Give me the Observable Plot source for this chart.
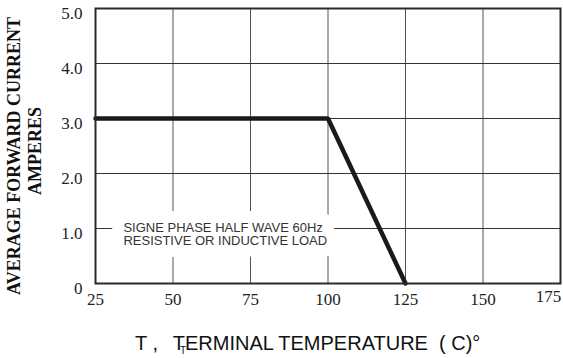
<!DOCTYPE html>
<html>
<head>
<meta charset="utf-8">
<script src="https://cdn.jsdelivr.net/npm/d3@7"></script>
<script src="https://cdn.jsdelivr.net/npm/@observablehq/plot@0.6"></script>
<style>
  body { margin: 0; background: #fff; width: 563px; height: 358px; overflow: hidden; }
  #wrap { position: relative; width: 563px; height: 358px; }
  #title { position: absolute; left: 135px; top: 333px; font-family: "Liberation Sans", Arial, sans-serif; font-size: 20px; color: #111; white-space: pre; line-height: 20px; }
  #sub { position: absolute; left: 180px; top: 346px; font-family: "Liberation Sans", Arial, sans-serif; font-size: 10px; color: #111; line-height: 10px; }
</style>
</head>
<body>
<div id="wrap"><div id="chart"></div><div id="title"></div><div id="sub"></div></div>
<script>
// Curve (derating): terminal temperature (°C) vs average forward current (A)
const temps = [25, 100, 125];
const amps = [3.0, 3.0, 0];
// Axis ticks
const xTicks = [25, 50, 75, 100, 125, 150, 175];
const yTicks = [0, 1, 2, 3, 4, 5];
const yTickLabels = ["0", "1.0", "2.0", "3.0", "4.0", "5.0"];
// Texts
const yTitleLines = ["AVERAGE FORWARD CURRENT", "AMPERES"];
const noteLines = ["SIGNE PHASE HALF WAVE 60Hz", "RESISTIVE OR INDUCTIVE LOAD"];
const noteX = [34];
const noteY = [0.9];
const xTitle = "T , \u2009 TERMINAL TEMPERATURE  ( C)°";
const xTitleSub = "T";

const curve = temps.map((t, i) => ({t, a: amps[i]}));
const innerX = xTicks.slice(1, -1);
const innerY = yTicks.slice(1, -1);
const serif = "'Liberation Serif', 'Times New Roman', serif";
const sans = "'Liberation Sans', Arial, sans-serif";
const note = [noteLines.join("\n")];

const chart = Plot.plot({
  width: 563,
  height: 318,
  marginLeft: 95,
  marginRight: 3,
  marginTop: 8,
  marginBottom: 35,
  style: {background: "#fff", overflow: "visible"},
  x: {domain: [25, 175]},
  y: {domain: [0, 5]},
  marks: [
    Plot.ruleX(innerX, {stroke: "#555", strokeWidth: 1}),
    Plot.ruleY(innerY, {stroke: "#333", strokeWidth: 1}),
    // white knock-out behind the note
    Plot.text(note, {
      x: noteX, y: noteY, text: d => d, textAnchor: "start",
      fontFamily: sans, fontSize: 13, lineHeight: 1,
      fill: "white", stroke: "white", strokeWidth: 24, strokeLinejoin: "round", ariaHidden: "true"
    }),
    Plot.text(note, {
      x: noteX, y: noteY, text: d => d, textAnchor: "start",
      fontFamily: sans, fontSize: 13, lineHeight: 1, fill: "#333"
    }),
    Plot.line(curve, {x: "t", y: "a", stroke: "#1a1a1a", strokeWidth: 4.5, strokeLinejoin: "miter"}),
    Plot.frame({stroke: "#2a2a2a", strokeWidth: 2}),
    Plot.axisY(yTicks, {tickSize: 0, tickPadding: 13, dy: 5, fontFamily: serif, fontSize: 17,
      fill: "#222", tickFormat: d => yTickLabels[yTicks.indexOf(d)], label: null}),
    Plot.axisX(xTicks.slice(0, -1), {tickSize: 0, tickPadding: 9, fontFamily: serif, fontSize: 17,
      fill: "#222", label: null}),
    Plot.axisX(xTicks.slice(-1), {tickSize: 0, tickPadding: 6, dx: -12, fontFamily: serif, fontSize: 17,
      fill: "#222", label: null}),
    Plot.text([yTitleLines[0]], {text: d => d, frameAnchor: "left", textAnchor: "middle", rotate: -90, dx: -81, dy: 10,
      fontFamily: serif, fontWeight: "bold", fontSize: 18, fill: "#111"}),
    Plot.text([yTitleLines[1]], {text: d => d, frameAnchor: "left", textAnchor: "middle", rotate: -90, dx: -60, dy: 5,
      fontFamily: serif, fontWeight: "bold", fontSize: 18, fill: "#111"})
  ]
});
document.getElementById("chart").append(chart);
document.getElementById("title").textContent = xTitle;
document.getElementById("sub").textContent = xTitleSub;
</script>
</body>
</html>
